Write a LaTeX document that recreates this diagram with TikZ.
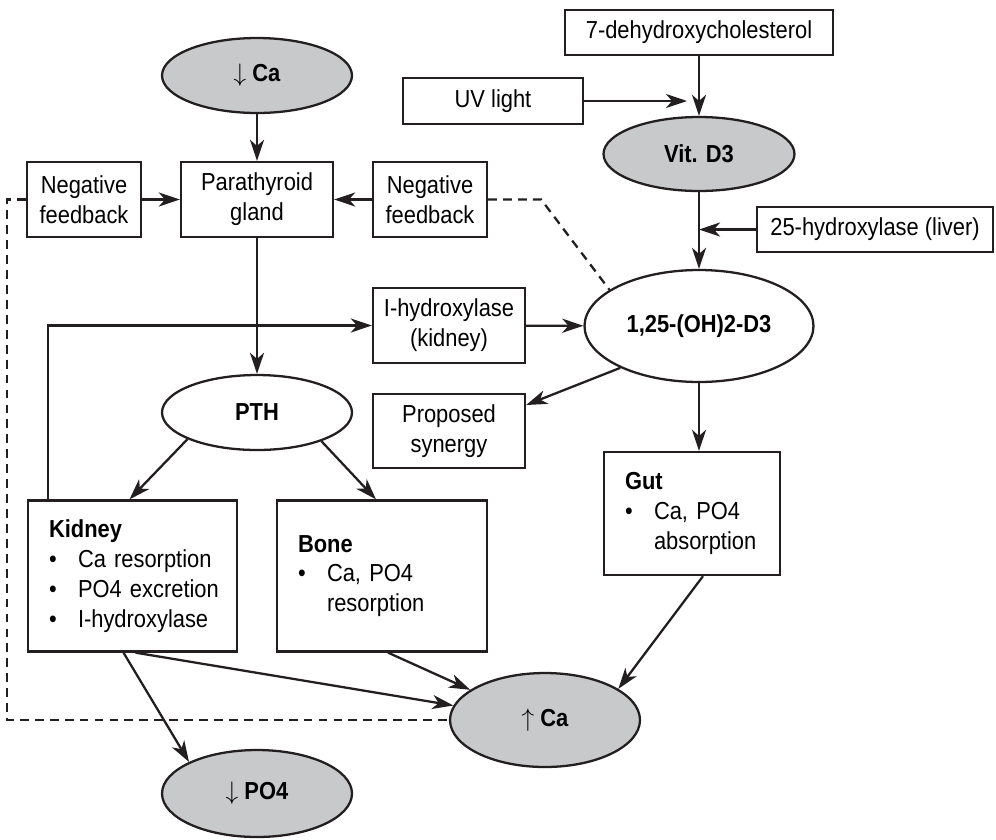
\documentclass[tikz,border=0pt]{standalone}
\usepackage{fontspec}
\setmainfont{Liberation Sans}[FakeStretch=0.89]
\usetikzlibrary{arrows.meta,calc,shapes.geometric}
\definecolor{ink}{RGB}{35,31,32}
\definecolor{ovalgray}{RGB}{200,201,203}
\def\itm#1{\makebox[0.58cm][l]{\textbullet}\mbox{#1}}
\def\cnt#1{\hspace*{0.58cm}\mbox{#1}}
\tikzset{
	box/.style={draw=ink, line width=1.3pt, rectangle, align=center, inner sep=0pt, font=\fontsize{14}{17}\selectfont},
	oval/.style={draw=ink, line width=1.3pt, ellipse, inner sep=0pt, font=\fontsize{14}{17}\selectfont\bfseries},
	grayoval/.style={oval, fill=ovalgray},
	listbox/.style={box, align=left, inner xsep=0.42cm, text width=#1},
	arr/.style={draw=ink, line width=1.3pt, -{Stealth[length=12pt,width=8pt,inset=3.5pt]}},
	fb/.style={draw=ink, line width=1.3pt, dash pattern=on 5pt off 3.5pt},
}

\begin{document}
\begin{tikzpicture}[x=0.02cm, y=-0.02cm]
		%%%%% START %%%%%
		\useasboundingbox (0,0) rectangle (996,839);
		
		\node[grayoval, minimum width=3.8cm, minimum height=1.5cm] (lowca) at (257,75.5) {$\downarrow$ Ca};
		\node[box, minimum width=3.04cm, minimum height=1.5cm] (parathyroid) at (257,199.5) {Parathyroid\\gland};
		\node[box, minimum width=2.28cm, minimum height=1.5cm] (nfleft) at (84,199.5) {Negative\\feedback};
		\node[box, minimum width=2.28cm, minimum height=1.5cm] (nfright) at (430,199.5) {Negative\\feedback};
		
		\node[box, minimum width=5.36cm, minimum height=0.9cm] (dehydro) at (699,32.5) {7-dehydroxycholesterol};
		\node[box, minimum width=3.6cm, minimum height=0.92cm] (uvlight) at (493,101) {UV light};
		\node[grayoval, minimum width=3.82cm, minimum height=1.48cm] (vitd3) at (699,154) {Vit. D3};
		\node[box, minimum width=4.72cm, minimum height=0.9cm] (liver) at (875,229.5) {25-hydroxylase (liver)};
		\node[oval, minimum width=4.58cm, minimum height=2.24cm] (dihydroxy) at (699,326) {1,25-(OH)2-D3};
		
		\node[box, minimum width=3.04cm, minimum height=1.5cm] (hydroxkid) at (449,325.5) {I-hydroxylase\\(kidney)};
		\node[box, minimum width=3.04cm, minimum height=1.48cm] (synergy) at (449,431) {Proposed\\synergy};
		\node[oval, minimum width=3.8cm, minimum height=1.5cm] (pth) at (257,412.5) {PTH};
		
		\node[listbox=3.34cm, minimum height=3.02cm] (kidney) at (132.5,576) {\textbf{Kidney}\\\itm{Ca resorption}\\\itm{PO4 excretion}\\\itm{I-hydroxylase}};
		\node[listbox=3.36cm, minimum height=3.02cm] (bone) at (382,576) {\textbf{Bone}\\\itm{Ca, PO4}\\\cnt{resorption}};
		\node[listbox=2.68cm, minimum height=2.46cm] (gut) at (692,513.5) {\textbf{Gut}\\\itm{Ca, PO4}\\\cnt{absorption}};
		
		\node[grayoval, minimum width=3.8cm, minimum height=1.88cm] (highca) at (545,720) {$\uparrow$ Ca};
		\node[grayoval, minimum width=3.8cm, minimum height=1.74cm] (lowpo4) at (257,793.5) {$\downarrow$ PO4};
		
		% parathyroid side
		\draw[arr] (lowca) -- (parathyroid);
		\draw[arr] (parathyroid) -- (pth);
		\draw[arr] (nfleft) -- (parathyroid);
		\draw[arr] (nfright) -- (parathyroid);
		\draw[arr] (pth.201) -- ($(kidney.north)+(-3,0)$);
		\draw[arr] (pth.336) -- ($(bone.north)+(-6,0)$);
		\draw[arr] ($(kidney.north west)+(21,0)$) |- (hydroxkid.west);
		
		% vitamin D side
		\draw[arr] (dehydro) -- (vitd3);
		\draw[arr] (uvlight.east) -- ($(uvlight.east -| vitd3.north)+(-12,0)$);
		\draw[arr] (vitd3) -- (dihydroxy);
		\draw[arr] (liver.west) -- (liver.west -| vitd3.south);
		\draw[arr] (hydroxkid) -- (dihydroxy);
		\draw[arr] (dihydroxy.208) -- ($(synergy.east)+(0,-26)$);
		\draw[arr] (dihydroxy.south) -- (dihydroxy.south |- gut.north);
		
		% effects on Ca and PO4
		\draw[arr] ($(kidney.south)+(-9,0)$) -- (lowpo4.north west);
		\draw[arr] ($(kidney.south)+(3,0)$) -- (highca.171);
		\draw[arr] ($(bone.south)+(6,0)$) -- (highca.158);
		\draw[arr] ($(gut.south)+(11,0)$) -- (highca.23);
		
		% feedback loops
		\draw[fb] (nfright.east) -- ++(53,0) -- (dihydroxy.158);
		\draw[fb] (nfleft.west) -- ++(-19,0) |- (highca.west);
		%%%%% END %%%%%
\end{tikzpicture}
\end{document}
